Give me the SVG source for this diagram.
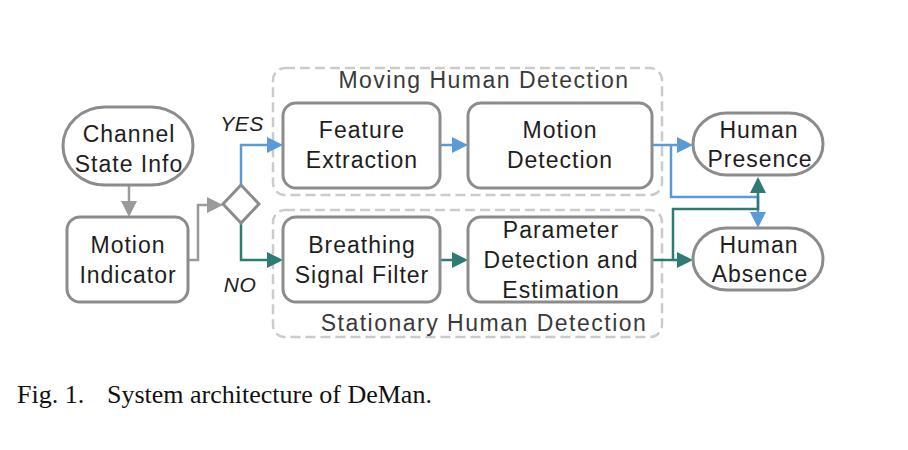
<svg xmlns="http://www.w3.org/2000/svg" width="908" height="450" viewBox="0 0 908 450">
<style>
.node{fill:#fff;stroke:#8c8c8c;stroke-width:3}
.group{fill:none;stroke:#cbcbcb;stroke-width:2.5;stroke-dasharray:10 5}
.t{font-family:"Liberation Sans",Arial,sans-serif;font-size:23px;letter-spacing:1px;fill:#1e1e1e;text-anchor:middle}
.title{font-family:"Liberation Sans",Arial,sans-serif;font-size:23px;letter-spacing:1.5px;fill:#3a3a3a;text-anchor:middle}
.lbl{font-family:"Liberation Sans",Arial,sans-serif;font-size:21px;font-style:italic;letter-spacing:0.5px;fill:#1e1e1e;text-anchor:middle}
.cap{font-family:"Liberation Serif","Times New Roman",serif;font-size:26px;fill:#111}
.c{fill:none;stroke-width:2.5}
.gray{stroke:#9a9a9a}
.blue{stroke:#5b9bd5}
.teal{stroke:#2e7b76}
</style>
<defs>
<marker id="ag" markerUnits="userSpaceOnUse" markerWidth="16" markerHeight="16" refX="0" refY="8" orient="auto"><path d="M0,0 L16,8 L0,16 Z" fill="#9a9a9a"/></marker>
<marker id="ab" markerUnits="userSpaceOnUse" markerWidth="16" markerHeight="16" refX="0" refY="8" orient="auto"><path d="M0,0 L16,8 L0,16 Z" fill="#5b9bd5"/></marker>
<marker id="at" markerUnits="userSpaceOnUse" markerWidth="16" markerHeight="16" refX="0" refY="8" orient="auto"><path d="M0,0 L16,8 L0,16 Z" fill="#2e7b76"/></marker>
</defs>
<rect width="908" height="450" fill="#fff"/>

<g id="moving-group">
<rect class="group" x="273" y="68" width="389" height="127" rx="12"/>
<text class="title" x="484" y="88">Moving Human Detection</text>
</g>
<g id="stationary-group">
<rect class="group" x="273" y="210" width="389" height="127" rx="12"/>
<text class="title" x="484" y="331">Stationary Human Detection</text>
</g>

<g id="connectors">
<line class="c gray" x1="129" y1="185" x2="129" y2="201" marker-end="url(#ag)"/>
<polyline class="c gray" points="188,260 198,260 198,205 207,205" marker-end="url(#ag)"/>
<polyline class="c blue" points="241,185 241,145 267,145" marker-end="url(#ab)"/>
<polyline class="c teal" points="241,223 241,260 267,260" marker-end="url(#at)"/>
<line class="c blue" x1="440" y1="145" x2="452" y2="145" marker-end="url(#ab)"/>
<line class="c teal" x1="440" y1="260" x2="452" y2="260" marker-end="url(#at)"/>
<line class="c blue" x1="652" y1="145" x2="677" y2="145" marker-end="url(#ab)"/>
<polyline class="c blue" points="671,145 671,197 758,197 758,212" marker-end="url(#ab)"/>
<line class="c teal" x1="652" y1="260" x2="677" y2="260" marker-end="url(#at)"/>
<polyline class="c teal" points="673,260 673,209 758,209 758,193" marker-end="url(#at)"/>
</g>

<g id="channel-state-info">
<rect class="node" x="63" y="107" width="130" height="78" rx="42" ry="39"/>
<text class="t" x="129" y="142">Channel</text>
<text class="t" x="129" y="172">State Info</text>
</g>
<g id="motion-indicator">
<rect class="node" x="67" y="217" width="121" height="85" rx="13"/>
<text class="t" x="128" y="253">Motion</text>
<text class="t" x="128" y="283">Indicator</text>
</g>
<g id="decision">
<polygon class="node" points="241,185 259,204 241,223 223,204"/>
<text class="lbl" x="242" y="131">YES</text>
<text class="lbl" x="240" y="292">NO</text>
</g>
<g id="feature-extraction">
<rect class="node" x="283" y="103" width="157" height="85" rx="13"/>
<text class="t" x="362" y="138">Feature</text>
<text class="t" x="362" y="168">Extraction</text>
</g>
<g id="motion-detection">
<rect class="node" x="468" y="103" width="184" height="85" rx="13"/>
<text class="t" x="560" y="138">Motion</text>
<text class="t" x="560" y="168">Detection</text>
</g>
<g id="breathing-signal-filter">
<rect class="node" x="283" y="217" width="157" height="85" rx="13"/>
<text class="t" x="362" y="253">Breathing</text>
<text class="t" x="362" y="283">Signal Filter</text>
</g>
<g id="parameter-detection">
<rect class="node" x="468" y="217" width="184" height="85" rx="13"/>
<text class="t" x="561" y="238">Parameter</text>
<text class="t" x="561" y="268">Detection and</text>
<text class="t" x="561" y="298">Estimation</text>
</g>
<g id="human-presence">
<rect class="node" x="693" y="113" width="130" height="62" rx="34" ry="31"/>
<text class="t" x="759" y="138">Human</text>
<text class="t" x="760" y="167">Presence</text>
</g>
<g id="human-absence">
<rect class="node" x="693" y="228" width="130" height="62" rx="34" ry="31"/>
<text class="t" x="759" y="253">Human</text>
<text class="t" x="760" y="282">Absence</text>
</g>

<g id="caption">
<text class="cap" x="17" y="403">Fig. 1.</text>
<text class="cap" x="107" y="403">System architecture of DeMan.</text>
</g>
</svg>
